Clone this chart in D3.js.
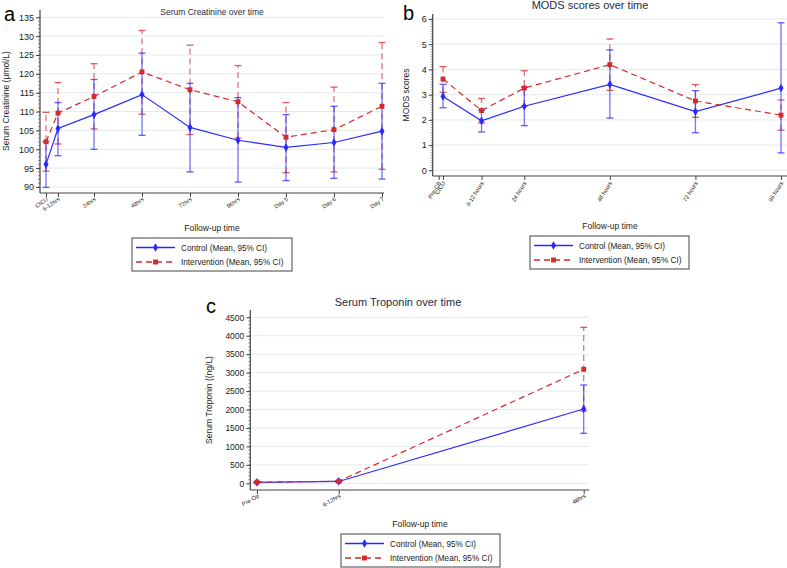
<!DOCTYPE html>
<html><head><meta charset="utf-8">
<script src="https://cdn.jsdelivr.net/npm/d3@7"></script>
<style>body{margin:0;background:#fff}svg{display:block;font-family:"Liberation Sans",Arial,sans-serif}</style>
</head><body><svg id="c" width="787" height="568"></svg>
<script>
// ---- Data ----
const creatTimes = [0, 6, 24, 48, 72, 96, 120, 144, 168];
const creatLabels = ["CICU", "6-12hrs", "24hrs", "48hrs", "72hrs", "96hrs", "Day 5", "Day 6", "Day 7"];
const creatCtrlMean = [96.0, 105.5, 109.2, 114.5, 105.8, 102.4, 100.5, 101.8, 104.8];
const creatCtrlLo = [89.9, 98.3, 100.0, 103.7, 94.0, 91.3, 91.7, 92.3, 92.1];
const creatCtrlHi = [102.0, 112.4, 118.5, 125.5, 117.5, 113.7, 109.2, 111.4, 117.5];
const creatIntMean = [102.0, 109.6, 114.0, 120.5, 115.8, 112.6, 103.2, 105.2, 111.4];
const creatIntLo = [94.2, 101.4, 105.4, 109.3, 103.9, 103.0, 93.8, 94.0, 94.7];
const creatIntHi = [109.8, 117.7, 122.7, 131.5, 127.6, 122.2, 112.4, 116.5, 128.3];
const creatYTicks = [90, 95, 100, 105, 110, 115, 120, 125, 130, 135];

const modsTickTimes = [0, 1.2, 12, 24, 48, 72, 96];
const modsLabels = ["Pre-CB", "CICU", "6-12 hours", "24 hours", "48 hours", "72 hours", "96 hours"];
const modsTimes = [1.2, 12, 24, 48, 72, 96];
const modsCtrlMean = [2.93, 1.96, 2.54, 3.41, 2.33, 3.26];
const modsCtrlLo = [2.48, 1.52, 1.77, 2.07, 1.49, 0.69];
const modsCtrlHi = [3.41, 2.39, 3.30, 4.77, 3.16, 5.85];
const modsIntMean = [3.62, 2.37, 3.26, 4.19, 2.75, 2.19];
const modsIntLo = [3.09, 1.88, 2.55, 3.17, 2.10, 1.59];
const modsIntHi = [4.11, 2.85, 3.95, 5.21, 3.40, 2.79];
const modsYTicks = [0, 1, 2, 3, 4, 5, 6];

const tropTimes = [0, 12, 48];
const tropLabels = ["Pre-Op", "6-12hrs", "48hrs"];
const tropCtrlMean = [25, 50, 2015];
const tropCtrlLo = [15, 35, 1355];
const tropCtrlHi = [35, 65, 2665];
const tropIntMean = [30, 55, 3090];
const tropIntLo = [20, 40, 1960];
const tropIntHi = [40, 70, 4228];
const tropYTicks = [0, 500, 1000, 1500, 2000, 2500, 3000, 3500, 4000, 4500];

const seriesNames = ["Control (Mean, 95% CI)", "Intervention (Mean, 95% CI)"];

// ---- Drawing ----
const svg = d3.select("#c");
const BLUE = "#2a2aff", RED = "#d42a2a", NAVY = "#1f2a48";

function panel(o) {
  const g = svg.append("g");
  const x = d3.scaleLinear().domain(o.xd).range(o.xr);
  const y = d3.scaleLinear().domain(o.yd).range(o.yr);
  const [x0, x1] = o.xEdge, [yTop, yBot] = o.yEdge;
  g.selectAll(".grid").data(o.yTicks).join("line")
    .attr("x1", x0).attr("x2", x1).attr("y1", d => y(d)).attr("y2", d => y(d))
    .attr("stroke", "#e3eaee").attr("stroke-width", 1);
  const minor = d3.range(o.yTicks[0], o.yTicks[o.yTicks.length - 1] + o.minorStep / 2, o.minorStep);
  g.selectAll(".mt").data(minor).join("line")
    .attr("x1", x0 - 2).attr("x2", x0).attr("y1", d => y(d)).attr("y2", d => y(d))
    .attr("stroke", "#555").attr("stroke-width", 0.6);
  const ya = g.append("g").attr("transform", `translate(${x0},0)`)
    .call(d3.axisLeft(y).tickValues(o.yTicks).tickSize(4).tickPadding(2).tickFormat(d3.format("d")));
  ya.select(".domain").remove();
  ya.selectAll(".tick line").attr("stroke", "#444");
  ya.selectAll("text").attr("font-size", o.yFont).attr("fill", "#222").attr("font-family", "Liberation Sans, Arial");
  g.append("line").attr("x1", x0).attr("x2", x0).attr("y1", yTop).attr("y2", yBot).attr("stroke", "#444").attr("stroke-width", 1.2);
  const xa = g.append("g").attr("transform", `translate(0,${yBot})`)
    .call(d3.axisBottom(x).tickValues(o.xTicks).tickSize(4).tickFormat((d, i) => o.xLabels[i]));
  xa.select(".domain").remove();
  xa.selectAll(".tick line").attr("stroke", "#444");
  xa.selectAll("text").attr("font-size", o.xFont).attr("fill", "#222")
    .attr("text-anchor", "end").attr("dy", 0).attr("y", 0)
    .attr("transform", `translate(2,7) rotate(${o.rot})`);
  g.append("line").attr("x1", x0).attr("x2", x1).attr("y1", yBot).attr("y2", yBot).attr("stroke", "#444").attr("stroke-width", 1.2);

  const series = [
    { m: o.cm, lo: o.cl, hi: o.ch, c: BLUE, dash: null, shape: d3.symbolDiamond, sz: 22 },
    { m: o.im, lo: o.il, hi: o.ih, c: RED, dash: "6,4", shape: d3.symbolSquare, sz: 24 }
  ];
  [series[1], series[0]].forEach(s => {
    const cg = g.append("g");
    o.t.forEach((t, i) => {
      cg.append("line").attr("x1", x(t)).attr("x2", x(t)).attr("y1", y(s.lo[i])).attr("y2", y(s.hi[i]))
        .attr("stroke", s.c).attr("stroke-opacity", 0.65).attr("stroke-width", 1.3)
        .attr("stroke-dasharray", s.dash);
      [s.lo[i], s.hi[i]].forEach(v => cg.append("line")
        .attr("x1", x(t) - 3.5).attr("x2", x(t) + 3.5).attr("y1", y(v)).attr("y2", y(v))
        .attr("stroke", s.c).attr("stroke-opacity", 0.75).attr("stroke-width", 1.3));
    });
  });
  series.forEach(s => {
    const line = d3.line().x((d, i) => x(o.t[i])).y(d => y(d));
    g.append("path").attr("d", line(s.m)).attr("fill", "none").attr("stroke", s.c)
      .attr("stroke-width", 1.2).attr("stroke-dasharray", s.dash);
    g.selectAll(null).data(s.m).join("path")
      .attr("transform", (d, i) => `translate(${x(o.t[i])},${y(d)})`)
      .attr("d", d3.symbol(s.shape, s.sz)).attr("fill", s.c);
  });

  svg.append("text").attr("x", o.letter[0]).attr("y", o.letter[1]).text(o.letterText)
    .attr("font-size", 20).attr("fill", "#000");
  svg.append("text").attr("x", o.title[0]).attr("y", o.title[1]).text(o.titleText)
    .attr("font-size", o.titleFont).attr("fill", NAVY).attr("text-anchor", "middle");
  svg.append("text").attr("transform", `translate(${o.ylab[0]},${o.ylab[1]}) rotate(-90)`)
    .text(o.ylabText).attr("font-size", 8.5).attr("fill", "#222").attr("text-anchor", "middle");
  svg.append("text").attr("x", o.xlab[0]).attr("y", o.xlab[1]).text("Follow-up time")
    .attr("font-size", 8.5).attr("fill", "#222").attr("text-anchor", "middle");
  const [lx, ly, lw, lh] = o.legend;
  const lg = svg.append("g").attr("transform", `translate(${lx},${ly})`);
  lg.append("rect").attr("width", lw).attr("height", lh).attr("fill", "#fff").attr("stroke", "#444").attr("stroke-width", 1);
  series.forEach((s, i) => {
    const yy = 9.5 + i * 14.5;
    lg.append("line").attr("x1", 4).attr("x2", 43).attr("y1", yy).attr("y2", yy)
      .attr("stroke", s.c).attr("stroke-width", 1.3).attr("stroke-dasharray", s.dash);
    lg.append("path").attr("transform", `translate(23.5,${yy})`).attr("d", d3.symbol(s.shape, s.sz)).attr("fill", s.c);
    lg.append("text").attr("x", 49).attr("y", yy + 3).text(seriesNames[i]).attr("font-size", 8.2).attr("fill", "#222");
  });
}

panel({
  xd: [0, 24], xr: [46, 94], yd: [90, 135], yr: [187, 17.3],
  xEdge: [40, 384], yEdge: [10, 193], yTicks: creatYTicks, minorStep: 1, yFont: 9,
  xTicks: creatTimes, xLabels: creatLabels, xFont: 5.8, rot: -35,
  t: creatTimes, cm: creatCtrlMean, cl: creatCtrlLo, ch: creatCtrlHi, im: creatIntMean, il: creatIntLo, ih: creatIntHi,
  letter: [4, 21], letterText: "a", title: [212, 15], titleText: "Serum Creatinine over time", titleFont: 8.5,
  ylab: [9, 101], ylabText: "Serum Creatinine (\u03bcmol/L)", xlab: [212, 231],
  legend: [132, 238, 160, 33]
});
panel({
  xd: [24, 96], xr: [524.3, 781], yd: [0, 6], yr: [170.3, 19],
  xEdge: [432.7, 787], yEdge: [14, 176], yTicks: modsYTicks, minorStep: 0.1, yFont: 9,
  xTicks: modsTickTimes, xLabels: modsLabels, xFont: 5.8, rot: -58,
  t: modsTimes, cm: modsCtrlMean, cl: modsCtrlLo, ch: modsCtrlHi, im: modsIntMean, il: modsIntLo, ih: modsIntHi,
  letter: [403, 20], letterText: "b", title: [590, 9], titleText: "MODS scores over time", titleFont: 11,
  ylab: [409, 95], ylabText: "MODS scores", xlab: [610, 229],
  legend: [530, 236, 159, 33]
});
panel({
  xd: [0, 48], xr: [257, 583.7], yd: [0, 4500], yr: [483.3, 317.3],
  xEdge: [250.3, 589.3], yEdge: [310, 490], yTicks: tropYTicks, minorStep: 100, yFont: 8.5,
  xTicks: tropTimes, xLabels: tropLabels, xFont: 5.8, rot: -30,
  t: tropTimes, cm: tropCtrlMean, cl: tropCtrlLo, ch: tropCtrlHi, im: tropIntMean, il: tropIntLo, ih: tropIntHi,
  letter: [206, 313], letterText: "c", title: [398, 306], titleText: "Serum Troponin over time", titleFont: 11,
  ylab: [212, 400], ylabText: "Serum Troponin ((ng/L)", xlab: [420, 527],
  legend: [341, 534, 159, 33]
});
</script></body></html>
